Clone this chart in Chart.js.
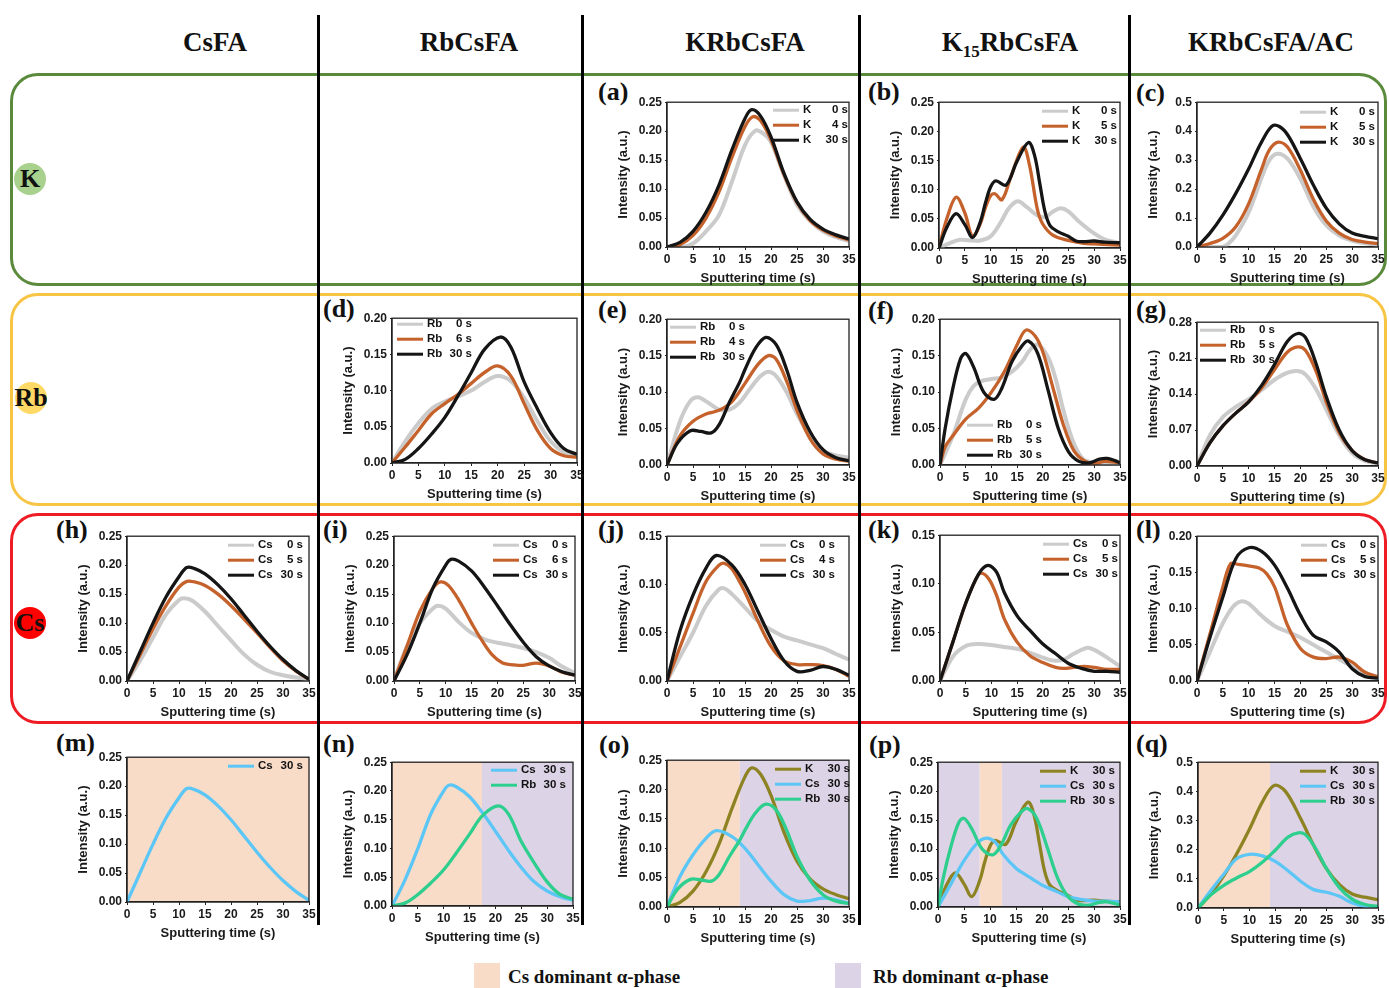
<!DOCTYPE html>
<html>
<head>
<meta charset="utf-8">
<script src="https://cdn.jsdelivr.net/npm/chart.js@4.4.0/dist/chart.umd.min.js"></script>
<style>
  body { margin:0; background:#fff; }
  #page { position:relative; width:1389px; height:988px; overflow:hidden; }
  .head { position:absolute; top:26px; width:260px; text-align:center; font:bold 27px 'Liberation Serif', serif; line-height:32px; color:#111; }
  .head sub { font-size:17px; }
  .vline { position:absolute; top:15px; height:910px; width:3px; background:#000; }
  .rowbox { position:absolute; left:10px; width:1371px; border:3px solid; border-radius:28px; }
  .tag { position:absolute; font:bold 26px 'Liberation Serif', serif; line-height:26px; color:#111; }
  .dot { position:absolute; width:32px; height:32px; border-radius:50%; }
  .rowlab { position:absolute; width:60px; text-align:center; font:bold 26px 'Liberation Serif', serif; line-height:26px; color:#111; }
  .key { position:absolute; top:963px; width:26px; height:26px; }
  .keytxt { position:absolute; top:966px; font:bold 19px 'Liberation Serif', serif; line-height:22px; color:#111; }
  .panel { position:absolute; }
</style>
</head>
<body>
<div id="page">
  <div class="rowbox" style="top:73px;height:207px;border-color:#5a8a3c;"></div>
  <div class="rowbox" style="top:293px;height:207px;border-color:#f7c444;"></div>
  <div class="rowbox" style="top:513px;height:205px;border-color:#ee1d25;"></div>

  <div class="vline" style="left:317px;"></div>
  <div class="vline" style="left:581px;"></div>
  <div class="vline" style="left:858px;"></div>
  <div class="vline" style="left:1128px;"></div>

  <div class="head" style="left:85px;">CsFA</div>
  <div class="head" style="left:339px;">RbCsFA</div>
  <div class="head" style="left:615px;">KRbCsFA</div>
  <div class="head" style="left:880px;">K<sub>15</sub>RbCsFA</div>
  <div class="head" style="left:1141px;">KRbCsFA/AC</div>

  <div class="dot" style="left:14px;top:163px;background:#a9d18e;"></div>
  <div class="rowlab" style="left:0px;top:166px;">K</div>
  <div class="dot" style="left:15px;top:382px;background:#ffd966;"></div>
  <div class="rowlab" style="left:1px;top:385px;">Rb</div>
  <div class="dot" style="left:14px;top:607px;background:#ff0000;"></div>
  <div class="rowlab" style="left:0px;top:610px;">Cs</div>

  <div class="key" style="left:474px;background:#f8dcc8;"></div>
  <div class="keytxt" style="left:508px;">Cs dominant α-phase</div>
  <div class="key" style="left:835px;background:#ddd3e6;"></div>
  <div class="keytxt" style="left:873px;">Rb dominant α-phase</div>
</div>

<script>
// tick labels
var xTicks = [0, 5, 10, 15, 20, 25, 30, 35];
var yT25 = [0, 0.05, 0.10, 0.15, 0.20, 0.25];
var yT20 = [0, 0.05, 0.10, 0.15, 0.20];
var yT15 = [0, 0.05, 0.10, 0.15];
var yT28 = [0, 0.07, 0.14, 0.21, 0.28];
var yT50 = [0, 0.1, 0.2, 0.3, 0.4, 0.5];

// (a) KRbCsFA - K   [time (s), intensity]
var aK0 = [[0,0],[3,0],[5,0.006],[7.5,0.027],[10,0.055],[12.5,0.113],[15,0.176],[17,0.201],[18.5,0.196],[20,0.181],[22.5,0.124],[25,0.073],[27.5,0.045],[30,0.027],[32.5,0.017],[35,0.01]];
var aK4 = [[0,0],[2.5,0.004],[5,0.02],[7.5,0.05],[10,0.095],[12.5,0.155],[15,0.208],[16.5,0.225],[18,0.218],[20,0.185],[22.5,0.125],[25,0.077],[27.5,0.046],[30,0.029],[32.5,0.019],[35,0.012]];
var aK30 = [[0,0],[2.5,0.008],[5,0.027],[7.5,0.06],[10,0.107],[12.5,0.168],[15,0.222],[16.3,0.237],[18,0.226],[20,0.19],[22.5,0.127],[25,0.078],[27.5,0.048],[30,0.031],[32.5,0.021],[35,0.014]];

// (b) K15RbCsFA - K
var bK0 = [[0,0],[2,0.008],[4,0.014],[6,0.013],[8,0.013],[10,0.02],[12,0.045],[13.5,0.068],[15.2,0.08],[17,0.07],[19,0.056],[20.5,0.053],[22,0.062],[23.5,0.068],[25,0.063],[27,0.046],[30,0.025],[32,0.015],[35,0.008]];
var bK5 = [[0,0],[1.5,0.05],[3.3,0.087],[5,0.06],[6.5,0.02],[8,0.042],[9,0.07],[10,0.09],[10.8,0.093],[12.2,0.083],[14,0.125],[16.3,0.173],[17.5,0.142],[19,0.067],[20,0.042],[22,0.022],[25,0.013],[28,0.008],[30,0.007],[35,0.005]];
var bK30 = [[0,0],[1.5,0.035],[3.3,0.059],[5,0.04],[6.5,0.018],[8,0.045],[9,0.078],[10,0.105],[11,0.115],[13,0.108],[15,0.147],[17.3,0.181],[18.5,0.158],[19.5,0.11],[20.5,0.062],[21.5,0.038],[23,0.028],[25,0.02],[26.5,0.012],[28,0.011],[30,0.012],[32,0.01],[35,0.009]];

// (c) KRbCsFA/AC - K
var cK0 = [[0,0],[5,0.001],[6,0.01],[7.5,0.04],[10,0.12],[12.5,0.24],[14,0.3],[15.5,0.322],[17.5,0.305],[20,0.235],[22.5,0.14],[25,0.075],[27.5,0.04],[30,0.022],[32.5,0.013],[35,0.008]];
var cK5 = [[0,0],[2.5,0.012],[5,0.03],[7.5,0.07],[10,0.15],[12.5,0.27],[14,0.335],[15.7,0.362],[17.5,0.345],[20,0.265],[22.5,0.165],[25,0.09],[27.5,0.048],[30,0.026],[32.5,0.017],[35,0.012]];
var cK30 = [[0,0],[2.5,0.048],[5,0.11],[7.5,0.185],[10,0.27],[12.5,0.363],[14.8,0.42],[17,0.4],[20,0.305],[22.5,0.214],[25,0.134],[27.5,0.08],[30,0.048],[32.5,0.037],[35,0.029]];

// (d) RbCsFA - Rb
var dRb0 = [[0,0],[2.5,0.03],[5,0.055],[7.5,0.075],[10,0.085],[12.5,0.092],[15,0.1],[17.5,0.112],[20,0.12],[22.5,0.113],[25,0.09],[27.5,0.058],[30,0.03],[32.5,0.015],[35,0.01]];
var dRb6 = [[0,0],[2.5,0.022],[5,0.045],[7.5,0.068],[10,0.082],[12.5,0.095],[15,0.11],[17.5,0.125],[20,0.134],[22.5,0.12],[25,0.082],[27.5,0.045],[30,0.02],[32.5,0.01],[35,0.008]];
var dRb30 = [[0,0],[2.5,0.005],[5,0.02],[7.5,0.04],[10,0.063],[12.5,0.093],[15,0.125],[17.5,0.157],[20.5,0.174],[22.5,0.16],[25,0.112],[27.5,0.075],[30,0.042],[32.5,0.02],[35,0.012]];

// (e) KRbCsFA - Rb
var eRb0 = [[0,0],[2.5,0.06],[4.5,0.088],[6,0.093],[8,0.085],[10,0.076],[12,0.076],[14,0.086],[16,0.105],[18,0.122],[19.5,0.128],[21,0.122],[23,0.1],[25,0.07],[27.5,0.04],[30,0.02],[32.5,0.013],[35,0.01]];
var eRb4 = [[0,0],[2.5,0.04],[5,0.06],[7.5,0.07],[10,0.075],[12.5,0.087],[15,0.112],[17.5,0.138],[19.5,0.15],[21,0.145],[23,0.115],[25,0.075],[27.5,0.036],[30,0.015],[32.5,0.008],[35,0.005]];
var eRb30 = [[0,0],[2,0.03],[4.5,0.047],[6.5,0.046],[8.5,0.044],[10,0.055],[12,0.086],[14,0.114],[15,0.131],[17,0.16],[19,0.175],[21,0.165],[23,0.131],[25,0.086],[27.5,0.046],[30,0.021],[32.5,0.01],[35,0.006]];

// (f) K15RbCsFA - Rb
var fRb0 = [[0,0],[2.5,0.04],[5,0.09],[6.5,0.108],[8,0.115],[10,0.118],[12,0.12],[14,0.128],[16,0.142],[17.5,0.158],[19,0.165],[21,0.148],[22.5,0.118],[24,0.075],[26,0.03],[28,0.007],[31,0.003],[35,0.002]];
var fRb5 = [[0,0],[1,0.025],[2.5,0.04],[5,0.063],[7.5,0.078],[10,0.1],[12.5,0.128],[15,0.165],[16.7,0.185],[18.5,0.177],[20,0.155],[22,0.105],[24,0.055],[26,0.02],[28,0.006],[30,0.002],[32,0.005],[35,0.003]];
var fRb30 = [[0,0],[1,0.05],[2.5,0.105],[4,0.146],[5,0.153],[6.5,0.135],[8.5,0.1],[10.5,0.09],[12,0.105],[14,0.142],[16,0.164],[17.2,0.17],[19,0.153],[21,0.103],[23,0.05],[25,0.018],[27,0.005],[29,0.003],[31,0.008],[32.5,0.009],[34,0.006],[35,0.003]];

// (g) KRbCsFA/AC - Rb
var gRb0 = [[0,0],[2.5,0.06],[5,0.095],[7.5,0.115],[10,0.13],[12.5,0.148],[15,0.168],[17.5,0.182],[19.5,0.185],[21,0.178],[23,0.15],[25,0.11],[27.5,0.06],[30,0.025],[32.5,0.01],[35,0.005]];
var gRb5 = [[0,0],[2.5,0.045],[5,0.078],[7.5,0.103],[10,0.125],[12.5,0.152],[15,0.188],[17.5,0.222],[19.5,0.232],[21,0.225],[23,0.185],[25,0.125],[27.5,0.065],[30,0.03],[32.5,0.012],[35,0.006]];
var gRb30 = [[0,0],[2.5,0.045],[5,0.078],[7.5,0.103],[10,0.125],[12.5,0.157],[15,0.198],[17.5,0.243],[19.5,0.258],[21,0.25],[23,0.2],[25,0.135],[27.5,0.07],[30,0.03],[32.5,0.012],[35,0.006]];

// (h) CsFA - Cs
var hCs0 = [[0,0],[2.5,0.035],[5,0.075],[7.5,0.115],[10,0.14],[11,0.143],[12.5,0.139],[15,0.12],[17.5,0.095],[20,0.07],[22.5,0.046],[25,0.028],[27.5,0.016],[30,0.01],[32.5,0.006],[35,0.003]];
var hCs5 = [[0,0],[2.5,0.045],[5,0.09],[7.5,0.13],[10,0.162],[11.5,0.172],[13,0.171],[15,0.165],[17.5,0.15],[20,0.13],[22.5,0.107],[25,0.083],[27.5,0.058],[30,0.035],[32.5,0.017],[35,0.003]];
var hCs30 = [[0,0],[2.5,0.05],[5,0.1],[7.5,0.145],[10,0.18],[11.5,0.196],[13,0.194],[15,0.185],[17.5,0.166],[20,0.142],[22.5,0.114],[25,0.086],[27.5,0.06],[30,0.037],[32.5,0.018],[35,0.003]];

// (i) RbCsFA - Cs
var iCs0 = [[0,0],[2.5,0.06],[5,0.1],[7.5,0.125],[8.5,0.13],[10,0.125],[12.5,0.102],[15,0.083],[17.5,0.072],[20,0.066],[22.5,0.062],[25,0.057],[27.5,0.05],[30,0.04],[32.5,0.025],[35,0.014]];
var iCs6 = [[0,0],[2.5,0.06],[5,0.12],[7.5,0.16],[9,0.171],[10.5,0.165],[12.5,0.14],[15,0.1],[17,0.07],[19,0.045],[21,0.031],[23,0.028],[25,0.027],[27.5,0.031],[30,0.026],[32.5,0.015],[35,0.01]];
var iCs30 = [[0,0],[2.5,0.045],[5,0.1],[7.5,0.16],[10,0.2],[11,0.21],[12.5,0.207],[15,0.19],[17.5,0.162],[20,0.13],[22.5,0.097],[25,0.067],[27.5,0.042],[30,0.026],[32.5,0.016],[35,0.01]];

// (j) KRbCsFA - Cs
var jCs0 = [[0,0],[2.5,0.025],[5,0.05],[7.5,0.078],[10,0.095],[11,0.096],[12.5,0.09],[15,0.076],[17.5,0.062],[20,0.053],[22.5,0.046],[25,0.042],[27.5,0.038],[30,0.034],[32.5,0.028],[35,0.022]];
var jCs4 = [[0,0],[2.5,0.035],[5,0.07],[7.5,0.103],[10,0.12],[11,0.122],[12.5,0.116],[15,0.092],[17.5,0.062],[20,0.036],[22.5,0.021],[25,0.017],[27.5,0.017],[30,0.016],[32.5,0.012],[35,0.005]];
var jCs30 = [[0,0],[2.5,0.052],[5,0.089],[7.5,0.117],[9.5,0.13],[12.5,0.12],[15,0.1],[17.5,0.072],[20,0.044],[22.5,0.021],[25,0.01],[27.5,0.011],[30,0.015],[32.5,0.012],[35,0.006]];

// (k) K15RbCsFA - Cs
var kCs0 = [[0,0],[2.5,0.025],[5,0.036],[7.5,0.038],[10,0.037],[12.5,0.035],[15,0.033],[17.5,0.029],[20,0.024],[22,0.021],[24,0.022],[26,0.028],[28.5,0.034],[30,0.032],[32.5,0.024],[35,0.015]];
var kCs5 = [[0,0],[2.5,0.04],[5,0.08],[7,0.105],[8,0.111],[9.5,0.105],[11,0.088],[12.5,0.064],[15,0.04],[17.5,0.026],[20,0.019],[22.5,0.014],[24,0.013],[26,0.014],[28,0.015],[30,0.014],[32.5,0.012],[35,0.012]];
var kCs30 = [[0,0],[2.5,0.04],[5,0.08],[7.5,0.11],[9.3,0.119],[11,0.112],[12.5,0.091],[15,0.067],[17.5,0.052],[20,0.038],[22.5,0.028],[25,0.018],[27.5,0.013],[30,0.01],[32.5,0.01],[35,0.009]];

// (l) KRbCsFA/AC - Cs
var lCs0 = [[0,0],[2.5,0.04],[5,0.08],[7,0.103],[8.5,0.11],[10,0.107],[12.5,0.09],[15,0.076],[17.5,0.068],[20,0.06],[22.5,0.05],[25,0.04],[27.5,0.03],[30,0.02],[32.5,0.01],[35,0.004]];
var lCs5 = [[0,0],[2.5,0.065],[5,0.13],[6.5,0.162],[8,0.161],[10,0.159],[12,0.156],[13.5,0.148],[15,0.13],[16,0.109],[17.5,0.077],[20,0.045],[22.5,0.033],[25,0.031],[27.5,0.033],[30,0.026],[32.5,0.012],[35,0.006]];
var lCs30 = [[0,0],[2.5,0.06],[5,0.116],[7.5,0.169],[10,0.184],[12.5,0.179],[15,0.16],[17.5,0.128],[20,0.091],[22.5,0.063],[25,0.054],[27.5,0.04],[30,0.017],[32.5,0.006],[35,0.004]];

// dominant alpha-phase spans, [from, to] in seconds
var mCsPhase = [[0, 35]], mRbPhase = [];
var nCsPhase = [[0, 17.4]], nRbPhase = [[17.4, 35]];
var oCsPhase = [[0, 14]], oRbPhase = [[14, 35]];
var pCsPhase = [[8, 12.3]], pRbPhase = [[0, 8], [12.3, 35]];
var qCsPhase = [[0, 14]], qRbPhase = [[14, 35]];

var colors = {
  gray: '#cbcbcb', orange: '#c5622c', black: '#151515',
  olive: '#8d8322', blue: '#5cc6f6', green: '#2ecf8e'
};

var FONT = "'Liberation Sans', Arial, sans-serif";

var panels = [
  {tag:'(a)', tx:598, ty:92, plot:[667,102,849,247], yt:yT25, dec:2, leg:[106,8],
   s:[['K 0 s',aK0,'gray'],['K 4 s',aK4,'orange'],['K 30 s',aK30,'black']]},
  {tag:'(b)', tx:868, ty:92, plot:[939,102,1120,248], yt:yT25, dec:2, leg:[103,9],
   s:[['K 0 s',bK0,'gray'],['K 5 s',bK5,'orange'],['K 30 s',bK30,'black']]},
  {tag:'(c)', tx:1136, ty:93, plot:[1197,102,1378,247], yt:yT50, dec:1, leg:[103,10],
   s:[['K 0 s',cK0,'gray'],['K 5 s',cK5,'orange'],['K 30 s',cK30,'black']]},

  {tag:'(d)', tx:323, ty:309, plot:[392,318,577,463], yt:yT20, dec:2, leg:[5,6],
   s:[['Rb 0 s',dRb0,'gray'],['Rb 6 s',dRb6,'orange'],['Rb 30 s',dRb30,'black']]},
  {tag:'(e)', tx:598, ty:310, plot:[667,319,849,465], yt:yT20, dec:2, leg:[3,8],
   s:[['Rb 0 s',eRb0,'gray'],['Rb 4 s',eRb4,'orange'],['Rb 30 s',eRb30,'black']]},
  {tag:'(f)', tx:868, ty:311, plot:[940,319,1120,465], yt:yT20, dec:2, leg:[27,106],
   s:[['Rb 0 s',fRb0,'gray'],['Rb 5 s',fRb5,'orange'],['Rb 30 s',fRb30,'black']]},
  {tag:'(g)', tx:1136, ty:310, plot:[1197,322,1378,466], yt:yT28, dec:2, leg:[3,8],
   s:[['Rb 0 s',gRb0,'gray'],['Rb 5 s',gRb5,'orange'],['Rb 30 s',gRb30,'black']]},

  {tag:'(h)', tx:56, ty:530, plot:[127,536,309,681], yt:yT25, dec:2, leg:[101,9],
   s:[['Cs 0 s',hCs0,'gray'],['Cs 5 s',hCs5,'orange'],['Cs 30 s',hCs30,'black']]},
  {tag:'(i)', tx:323, ty:530, plot:[394,536,575,681], yt:yT25, dec:2, leg:[99,9],
   s:[['Cs 0 s',iCs0,'gray'],['Cs 6 s',iCs6,'orange'],['Cs 30 s',iCs30,'black']]},
  {tag:'(j)', tx:598, ty:530, plot:[667,536,849,681], yt:yT15, dec:2, leg:[93,9],
   s:[['Cs 0 s',jCs0,'gray'],['Cs 4 s',jCs4,'orange'],['Cs 30 s',jCs30,'black']]},
  {tag:'(k)', tx:868, ty:530, plot:[940,535,1120,681], yt:yT15, dec:2, leg:[103,9],
   s:[['Cs 0 s',kCs0,'gray'],['Cs 5 s',kCs5,'orange'],['Cs 30 s',kCs30,'black']]},
  {tag:'(l)', tx:1136, ty:530, plot:[1197,536,1378,681], yt:yT20, dec:2, leg:[104,9],
   s:[['Cs 0 s',lCs0,'gray'],['Cs 5 s',lCs5,'orange'],['Cs 30 s',lCs30,'black']]},

  {tag:'(m)', tx:56, ty:743, plot:[127,757,309,902], yt:yT25, dec:2, leg:[101,9], cs:mCsPhase, rb:mRbPhase,
   s:[['Cs 30 s',hCs30,'blue']]},
  {tag:'(n)', tx:323, ty:744, plot:[392,762,573,906], yt:yT25, dec:2, leg:[99,8], cs:nCsPhase, rb:nRbPhase,
   s:[['Cs 30 s',iCs30,'blue'],['Rb 30 s',dRb30,'green']]},
  {tag:'(o)', tx:599, ty:745, plot:[667,760,849,907], yt:yT25, dec:2, leg:[108,9], cs:oCsPhase, rb:oRbPhase,
   s:[['K 30 s',aK30,'olive'],['Cs 30 s',jCs30,'blue'],['Rb 30 s',eRb30,'green']]},
  {tag:'(p)', tx:869, ty:745, plot:[938,762,1120,907], yt:yT25, dec:2, leg:[102,9], cs:pCsPhase, rb:pRbPhase,
   s:[['K 30 s',bK30,'olive'],['Cs 30 s',kCs30,'blue'],['Rb 30 s',fRb30,'green']]},
  {tag:'(q)', tx:1136, ty:744, plot:[1198,762,1378,908], yt:yT50, dec:1, leg:[102,9], cs:qCsPhase, rb:qRbPhase,
   s:[['K 30 s',cK30,'olive'],['Cs 30 s',lCs30,'blue'],['Rb 30 s',gRb30,'green']]}
];

// shaded phase regions behind the curves
var bandPlugin = {
  id: 'bands',
  beforeDraw: function(chart, args, opts) {
    if (!opts || !opts.cs) return;
    var ctx = chart.ctx, a = chart.chartArea, x = chart.scales.x;
    function fill(list, col) {
      list.forEach(function(r) {
        var x1 = x.getPixelForValue(r[0]), x2 = x.getPixelForValue(r[1]);
        ctx.fillStyle = col;
        ctx.fillRect(x1, a.top, x2 - x1, a.bottom - a.top);
      });
    }
    ctx.save();
    fill(opts.cs, '#f8dcc8');
    fill(opts.rb, '#ddd3e6');
    ctx.restore();
  }
};

// closed box round the plot + legend inside it
var boxPlugin = {
  id: 'inbox',
  afterDraw: function(chart, args, opts) {
    var ctx = chart.ctx, a = chart.chartArea;
    ctx.save();
    ctx.strokeStyle = '#222';
    ctx.lineWidth = 1.3;
    ctx.strokeRect(a.left, a.top, a.right - a.left, a.bottom - a.top);

    var x0 = a.left + opts.dx, y0 = a.top + opts.dy;
    ctx.font = 'bold 11.5px ' + FONT;
    ctx.textBaseline = 'middle';
    chart.data.datasets.forEach(function(ds, i) {
      var y = y0 + i * 15;
      ctx.strokeStyle = ds.borderColor;
      ctx.lineWidth = 3;
      ctx.beginPath();
      ctx.moveTo(x0, y);
      ctx.lineTo(x0 + 26, y);
      ctx.stroke();
      var sp = ds.label.indexOf(' ');
      ctx.fillStyle = '#111';
      ctx.textAlign = 'left';
      ctx.fillText(ds.label.slice(0, sp), x0 + 30, y);
      ctx.textAlign = 'right';
      ctx.fillText(ds.label.slice(sp + 1), x0 + 75, y);
    });
    ctx.restore();
  }
};

var page = document.getElementById('page');
var yW = 51, xH = 39, padT = 10, padR = 10;

panels.forEach(function(p) {
  var L = p.plot[0], T = p.plot[1], R = p.plot[2], B = p.plot[3];

  var tag = document.createElement('div');
  tag.className = 'tag';
  tag.style.left = p.tx + 'px';
  tag.style.top = (p.ty - 13) + 'px';
  tag.textContent = p.tag;
  page.appendChild(tag);

  var box = document.createElement('div');
  box.className = 'panel';
  box.style.left = (L - yW) + 'px';
  box.style.top = (T - padT) + 'px';
  box.style.width = (R - L + yW + padR) + 'px';
  box.style.height = (B - T + padT + xH) + 'px';
  var cv = document.createElement('canvas');
  box.appendChild(cv);
  page.appendChild(box);

  var n = p.s.length;
  var datasets = p.s.map(function(s, i) {
    return {
      label: s[0],
      data: s[1].map(function(d) { return {x: d[0], y: d[1]}; }),
      borderColor: colors[s[2]],
      borderWidth: s[2] == 'gray' ? 4 : 3.3,
      pointRadius: 0,
      fill: false,
      tension: 0.35,
      order: n - 1 - i
    };
  });

  var tickFont = {family: FONT, size: 12, weight: 'bold'};
  var titleFont = {family: FONT, size: 13, weight: 'bold'};

  new Chart(cv, {
    type: 'line',
    data: {datasets: datasets},
    plugins: [bandPlugin, boxPlugin],
    options: {
      responsive: true,
      maintainAspectRatio: false,
      animation: false,
      layout: {padding: {top: padT, right: padR, left: 0, bottom: 0}},
      plugins: {
        legend: {display: false},
        tooltip: {enabled: false},
        bands: {cs: p.cs, rb: p.rb},
        inbox: {dx: p.leg[0], dy: p.leg[1]}
      },
      scales: {
        x: {
          type: 'linear', min: 0, max: 35,
          afterBuildTicks: function(s) { s.ticks = xTicks.map(function(v) { return {value: v}; }); },
          afterFit: function(s) { s.height = xH; },
          ticks: {font: tickFont, color: '#1a1a1a', padding: 2, maxRotation: 0, autoSkip: false},
          grid: {display: true, drawOnChartArea: false, tickLength: 3, color: '#222'},
          border: {display: true, color: '#222', width: 1.3},
          title: {display: true, text: 'Sputtering time (s)', font: titleFont, color: '#1a1a1a', padding: 0}
        },
        y: {
          type: 'linear', min: 0, max: p.yt[p.yt.length - 1],
          afterBuildTicks: function(s) { s.ticks = p.yt.map(function(v) { return {value: v}; }); },
          afterFit: function(s) { s.width = yW; },
          ticks: {font: tickFont, color: '#1a1a1a', padding: 3, autoSkip: false,
                  callback: function(v) { return Number(v).toFixed(p.dec); }},
          grid: {display: true, drawOnChartArea: false, tickLength: 2, color: '#222'},
          border: {display: true, color: '#222', width: 1.3},
          title: {display: true, text: 'Intensity (a.u.)', font: titleFont, color: '#1a1a1a', padding: 0}
        }
      }
    }
  });
});
</script>
</body>
</html>
